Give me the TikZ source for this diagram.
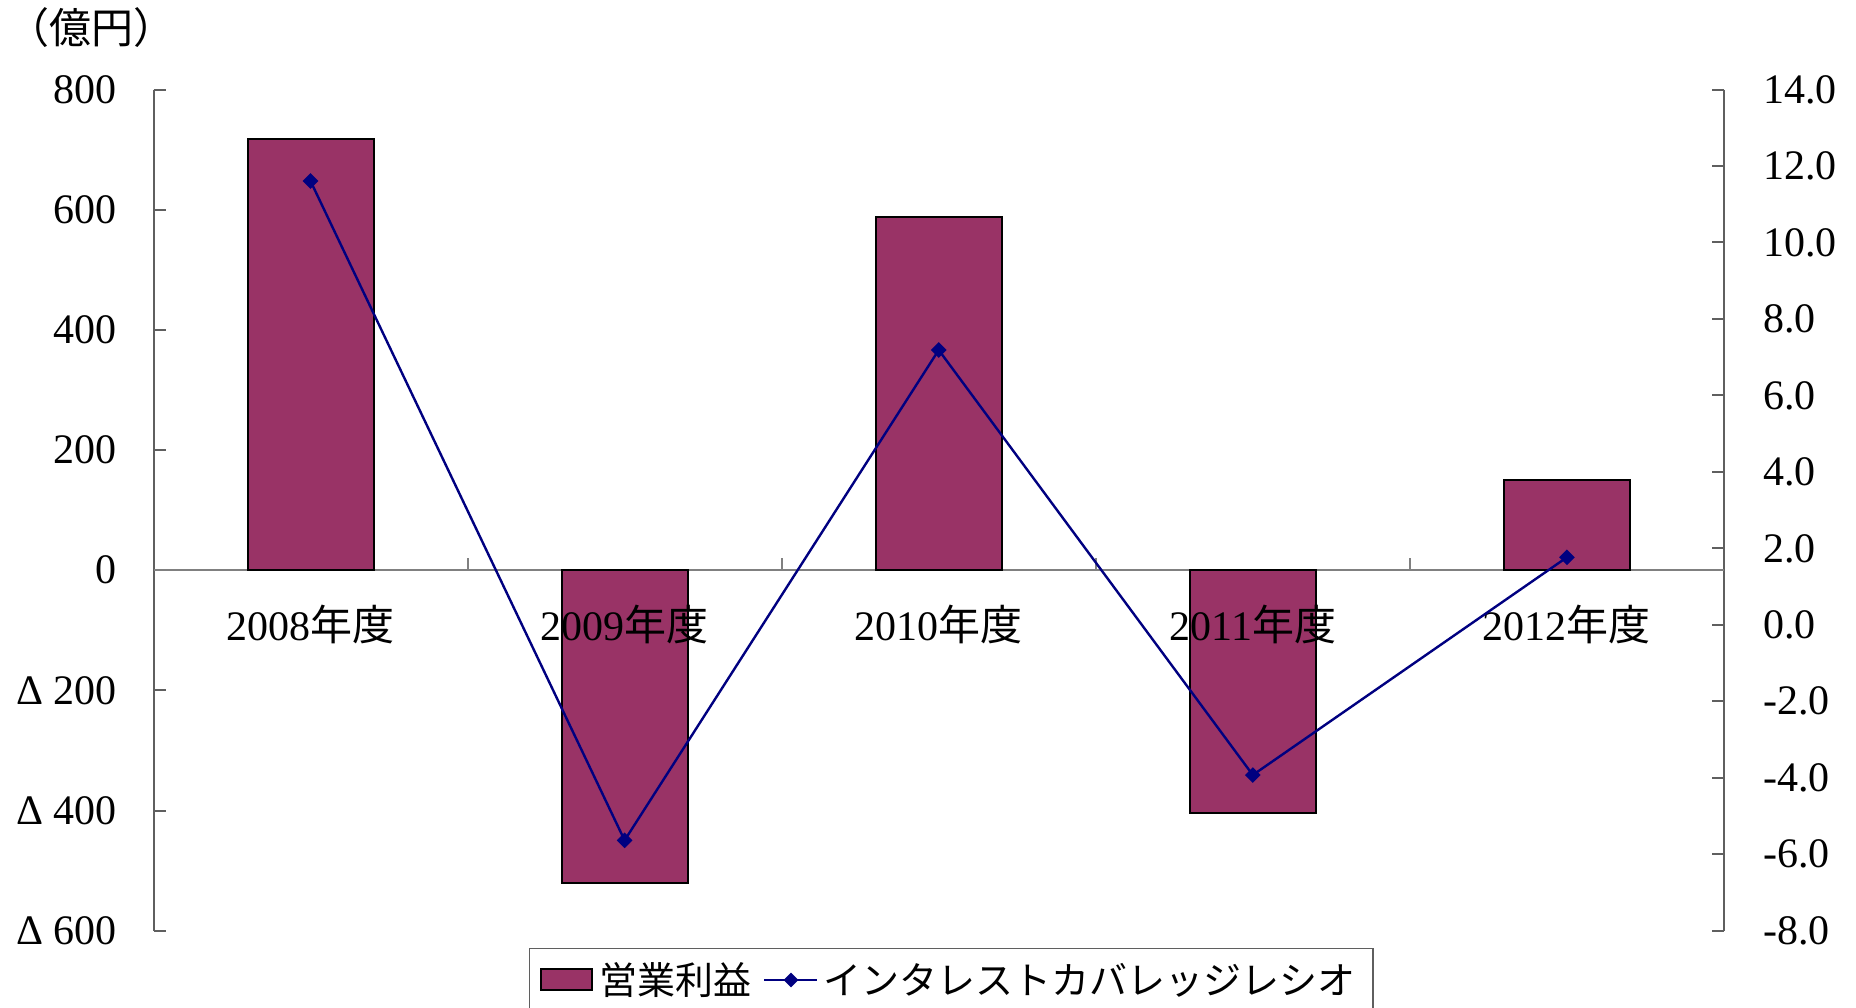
\documentclass[tikz,border=0pt]{standalone}
\usepackage{fontspec}
\setmainfont{Liberation Serif}
\newfontfamily\cjk{Noto Sans CJK JP}
\usetikzlibrary{shapes.geometric}
\definecolor{barplum}{RGB}{153,51,102}
\definecolor{navyline}{RGB}{0,0,128}
\definecolor{axisgray}{RGB}{95,95,95}
\definecolor{zerogray}{RGB}{128,128,128}
\begin{document}
\begin{tikzpicture}[x=0.5pt,y=-0.5pt,
  lbl/.style={font=\fontsize{21}{25}\selectfont, inner sep=0pt},
  leglbl/.style={font=\fontsize{19}{23}\selectfont\cjk, inner sep=0pt, anchor=west},
  bar/.style={draw=black, line width=1pt, fill=barplum},
  axisline/.style={draw=axisgray, line width=1pt},
  zeroline/.style={draw=zerogray, line width=1pt},
  marker/.style={diamond, fill=navyline, inner sep=0pt, minimum size=8pt},
  series/.style={draw=navyline, line width=1.2pt}]
\useasboundingbox (0,0) rectangle (1856,1007);
% title
\node[lbl, font=\fontsize{21}{25}\selectfont\cjk, anchor=west] (title) at (7,28) {（億円）};
% left axis
\coordinate (LT) at (153.5,89.5);
\coordinate (LB) at (153.5,930.7);
\draw[axisline] (LT) -- (LB);
\foreach \lab [count=\i from 0] in {800,600,400,200,0,Δ 200,Δ 400,Δ 600}{
  \pgfmathsetmacro{\yy}{89.5+\i*120.17}
  \draw[axisline] (153.5,\yy) -- (165.5,\yy);
  \node[lbl, anchor=east] (ylab\i) at (117,\yy) {\lab};
}
% right axis
\coordinate (RT) at (1724,89.5);
\coordinate (RB) at (1724,930.7);
\draw[axisline] (RT) -- (RB);
\foreach \lab [count=\i from 0] in {14.0,12.0,10.0,8.0,6.0,4.0,2.0,0.0,-2.0,-4.0,-6.0,-8.0}{
  \pgfmathsetmacro{\yy}{89.5+\i*76.473}
  \draw[axisline] (1712,\yy) -- (1724,\yy);
  \node[lbl, anchor=west] (rlab\i) at (1763,\yy) {\lab};
}
% zero line and category ticks
\coordinate (Z0) at (153.5,570);
\coordinate (Z1) at (1724,570);
\draw[zeroline] (Z0) -- (Z1);
\foreach \k in {1,2,3,4}{
  \pgfmathsetmacro{\xx}{153.5+\k*314.1}
  \draw[zeroline] (\xx,570) -- (\xx,558);
}
% bars
\draw[bar] (247.5,139) rectangle (373.5,570);
\draw[bar] (561.6,570) rectangle (687.6,883.3);
\draw[bar] (875.8,217.3) rectangle (1001.8,570);
\draw[bar] (1189.9,570) rectangle (1315.9,813.3);
\draw[bar] (1504,480) rectangle (1630,570);
% category labels
\node[lbl] (cat1) at (310.5,624) {2008{\cjk 年度}};
\node[lbl] (cat2) at (624.6,624) {2009{\cjk 年度}};
\node[lbl] (cat3) at (938.7,624) {2010{\cjk 年度}};
\node[lbl] (cat4) at (1252.8,624) {2011{\cjk 年度}};
\node[lbl] (cat5) at (1566.9,624) {2012{\cjk 年度}};
% series
\node[marker] (m1) at (310.5,181) {};
\node[marker] (m2) at (624.6,840.3) {};
\node[marker] (m3) at (938.7,350) {};
\node[marker] (m4) at (1252.8,775) {};
\node[marker] (m5) at (1566.9,557.3) {};
\draw[series] (m1.center) -- (m2.center) -- (m3.center) -- (m4.center) -- (m5.center);
% legend
\coordinate (LgL) at (529.3,1012);
\coordinate (LgR) at (1372.7,1012);
\draw[draw=axisgray, line width=0.8pt] (LgL) |- (1372.7,948.3) -- (LgR);
\draw[bar] (540.7,969.3) rectangle (592.3,990);
\node[leglbl] (leg1) at (599,980) {営業利益};
\coordinate (la) at (764.3,980);
\coordinate (lb) at (817.3,980);
\draw[series] (la) -- (lb);
\node[marker, minimum size=7.5pt] (lm) at (791,980) {};
\node[leglbl] (leg2) at (823,980) {インタレストカバレッジレシオ};
\end{tikzpicture}
\end{document}
